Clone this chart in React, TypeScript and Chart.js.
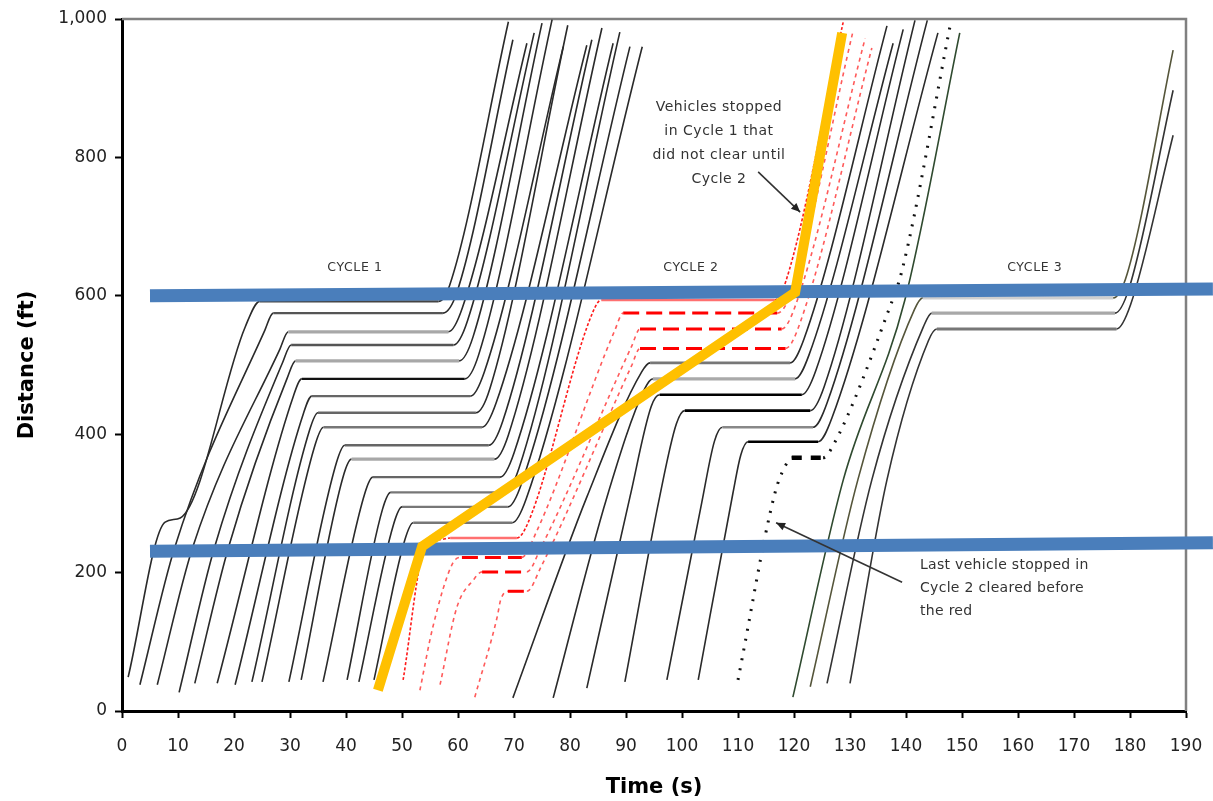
import React, { useEffect, useRef } from 'react';
import { Chart, registerables } from 'chart.js';

Chart.register(...registerables);

type P = [number, number];

// ---------- axes ----------
const X_MIN = 0;
const X_MAX = 190;
const X_STEP = 10;
const Y_MIN = 0;
const Y_MAX = 1000;
const Y_STEP = 200;
const X_TITLE = 'Time (s)';
const Y_TITLE = 'Distance (ft)';

// ---------- trajectories [time s, distance ft] ----------
// Cycle 1 queue (stopped at upper signal, cleared in cycle 1)
const CYCLE1_VEHICLES: P[][] = [
  [[1.1, 49], [7.7, 273], [10.4, 279], [22, 555], [24.6, 592], [56.5, 592], [58.5, 615], [69, 996]],
  [[3.2, 38], [9.4, 236], [25.5, 550], [27, 575], [57.3, 575], [59.8, 605], [69.8, 970]],
  [[6.3, 38], [12.6, 236], [28.2, 523], [29.7, 548], [58.3, 548], [60.8, 583], [72.3, 965]],
  [[10.2, 27], [16.5, 236], [28.7, 504], [30.2, 529], [59.2, 529], [61.7, 564], [73.6, 980]],
  [[13, 40], [19, 236], [29.5, 481], [31, 506], [60.2, 506], [62.7, 541], [75, 994]],
  [[17, 40], [30.6, 455], [32.1, 480], [61.2, 480], [63.7, 515], [76.8, 999]],
  [[20.2, 38], [32.4, 430], [33.9, 455], [62.2, 455], [64.7, 490], [78.8, 960]],
  [[23.2, 42], [33.5, 406], [35, 431], [63.2, 431], [65.7, 466], [79.6, 991]],
  [[25, 42], [34.5, 385], [36, 410], [64.3, 410], [66.8, 445], [83, 962]],
  [[29.8, 42], [38.3, 359], [39.8, 384], [65.5, 384], [68, 419], [83.9, 970]],
  [[32, 45], [39.5, 339], [41, 364], [66.5, 364], [69, 399], [85.7, 987]],
  [[35.9, 42], [43.3, 313], [44.8, 338], [67.5, 338], [70, 373], [87.7, 965]],
  [[40.2, 45], [46.5, 291], [48, 316], [68.4, 316], [70.9, 351], [88.9, 981]],
  [[42.3, 42], [48.5, 270], [50, 295], [68.9, 295], [71.4, 330], [90.7, 960]],
  [[45, 45], [50.5, 247], [52, 272], [69.7, 272], [72.2, 307], [92.9, 960]],
];

// Vehicles stopped in cycle 1 that did not clear until cycle 2 (red)
const RED_VEHICLES: P[][] = [
  [[50.2, 45], [54.1, 236], [57.2, 248], [58.6, 250], [70.5, 250], [72.5, 272], [84, 575], [85.6, 594], [116.5, 594], [118.5, 620], [128.8, 996]],
  [[53.2, 30], [55.5, 121], [59.1, 214], [60.7, 222], [71.4, 222], [73.9, 257], [88, 550], [89.5, 575], [117, 575], [119.5, 605], [130.5, 981]],
  [[56.8, 38], [59.8, 150], [62.8, 190], [64.3, 201], [72.3, 201], [74.8, 236], [91, 527], [92.5, 552], [117.8, 552], [120.3, 587], [132.7, 972]],
  [[63, 20], [67, 136], [67.6, 160], [68.9, 173], [72.3, 173], [74.8, 208], [91, 499], [92.5, 524], [118.5, 524], [121, 559], [133.9, 958]],
];

// Cycle 2 queue (black)
const CYCLE2_VEHICLES: P[][] = [
  [[69.8, 19], [83, 309], [92.8, 490], [94.3, 503], [119.3, 503], [121.8, 538], [136.6, 990]],
  [[77, 19], [86.6, 309], [93.3, 465], [94.8, 480], [120.2, 480], [122.7, 515], [137.7, 965]],
  [[83, 33], [90.7, 309], [94.5, 440], [96, 457], [121.4, 457], [123.9, 492], [139.5, 985]],
  [[89.8, 42], [96, 309], [99, 415], [100.5, 434], [122.9, 434], [125.4, 469], [141.6, 998]],
  [[97.3, 45], [103.5, 300], [105.8, 390], [107.2, 410], [123.4, 410], [125.9, 445], [143.8, 998]],
  [[102.9, 45], [109.1, 315], [110.5, 370], [111.8, 389], [124.3, 389], [126.8, 424], [145.7, 980]],
];

// Last vehicle stopped in cycle 2 (dotted)
const LAST_STOPPED_CYCLE2: P[] = [
  [110, 45], [116.6, 315], [118.5, 355], [119.6, 366], [125.2, 366], [126.8, 381], [136.8, 577], [139.3, 637], [147.9, 991],
];

// Vehicle passing without stopping
const THROUGH_VEHICLE: P[] = [[119.8, 20], [128.8, 334], [139.8, 594], [149.6, 980]];

// Cycle 3 queue
const CYCLE3_VEHICLES: P[][] = [
  [[122.9, 35], [131.4, 334], [141.5, 580], [143, 597], [177, 597], [179.5, 632], [187.7, 955]],
  [[125.9, 40], [133.9, 334], [143.1, 555], [144.6, 575], [177.3, 575], [179.8, 610], [187.7, 897]],
  [[130, 40], [136.6, 334], [144, 535], [145.5, 552], [177.6, 552], [180.1, 587], [187.7, 832]],
];

// Reference lines
const UPPER_STOP_LINE: P[] = [[5, 600], [194.8, 610]];
const LOWER_STOP_LINE: P[] = [[5, 231], [194.8, 243]];
const SHOCKWAVE_LINE: P[] = [[45.7, 30], [53.6, 238], [120.2, 605], [128.6, 980]];

// ---------- styles ----------
const CYCLE1_STOP_COLORS = ['#444', '#555', '#a8a8a8', '#555', '#a8a8a8', '#111', '#666', '#666', '#777', '#666', '#a8a8a8', '#666', '#777', '#777', '#777'];
const CYCLE2_STOP_COLORS = ['#777', '#aaa', '#000', '#000', '#888', '#000'];
const CYCLE3_STOP_COLORS = ['#cfcfcf', '#a8a8a8', '#777'];
const CYCLE3_CURVE_COLORS = ['#55553a', '#333', '#333'];

const FONT = '"DejaVu Sans", Verdana, sans-serif';

const CYCLE_LABELS = [
  { text: 'CYCLE 1', t: 41.6, d: 640 },
  { text: 'CYCLE 2', t: 101.6, d: 640 },
  { text: 'CYCLE 3', t: 163, d: 640 },
];
const NOTE_1_LINES = ['Vehicles stopped', 'in Cycle 1 that', 'did not clear until', 'Cycle 2'];
const NOTE_2_LINES = ['Last vehicle stopped in', 'Cycle 2 cleared before', 'the red'];

const toXY = (arr: P[]) => arr.map(([x, y]) => ({ x, y }));
const flat = (c: any) => c.p0.parsed.y === c.p1.parsed.y;

function vehicle(
  pts: P[],
  curveColor: string,
  curveWidth: number,
  curveDash: number[],
  stopColor: string,
  stopWidth: number,
  stopDash: number[],
) {
  return {
    type: 'line',
    data: toXY(pts),
    borderColor: curveColor,
    borderWidth: curveWidth,
    borderDash: curveDash,
    pointRadius: 0,
    pointHoverRadius: 0,
    fill: false,
    cubicInterpolationMode: 'monotone',
    order: 5,
    segment: {
      borderColor: (c: any) => (flat(c) ? stopColor : undefined),
      borderWidth: (c: any) => (flat(c) ? stopWidth : undefined),
      borderDash: (c: any) => (flat(c) ? stopDash : undefined),
    },
  };
}

function arrow(ctx: CanvasRenderingContext2D, x1: number, y1: number, x2: number, y2: number) {
  ctx.beginPath();
  ctx.moveTo(x1, y1);
  ctx.lineTo(x2, y2);
  ctx.stroke();
  const a = Math.atan2(y2 - y1, x2 - x1);
  const len = 9;
  const w = 4;
  ctx.beginPath();
  ctx.moveTo(x2, y2);
  ctx.lineTo(x2 - len * Math.cos(a) + w * Math.sin(a), y2 - len * Math.sin(a) - w * Math.cos(a));
  ctx.lineTo(x2 - len * Math.cos(a) - w * Math.sin(a), y2 - len * Math.sin(a) + w * Math.cos(a));
  ctx.closePath();
  ctx.fill();
}

const framePlugin = {
  id: 'frame',
  beforeDatasetsDraw(chart: any) {
    const { ctx, chartArea } = chart;
    ctx.save();
    ctx.strokeStyle = '#808080';
    ctx.lineWidth = 2.5;
    ctx.beginPath();
    ctx.moveTo(chartArea.left, chartArea.top);
    ctx.lineTo(chartArea.right, chartArea.top);
    ctx.lineTo(chartArea.right, chartArea.bottom);
    ctx.stroke();
    ctx.restore();
  },
};

const notesPlugin = {
  id: 'notes',
  afterDatasetsDraw(chart: any) {
    const { ctx } = chart;
    const x = chart.scales.x;
    const y = chart.scales.y;
    ctx.save();
    ctx.fillStyle = '#333';
    ctx.textBaseline = 'middle';
    ctx.textAlign = 'center';
    (ctx as any).letterSpacing = '0.6px';
    ctx.font = `12.5px ${FONT}`;
    CYCLE_LABELS.forEach((l) => ctx.fillText(l.text, x.getPixelForValue(l.t), y.getPixelForValue(l.d)));

    (ctx as any).letterSpacing = '0.5px';
    ctx.font = `14px ${FONT}`;
    const n1x = x.getPixelForValue(106.6);
    const n1y = y.getPixelForValue(873);
    NOTE_1_LINES.forEach((s, i) => ctx.fillText(s, n1x, n1y + i * 24));

    ctx.textAlign = 'left';
    (ctx as any).letterSpacing = '0.3px';
    const n2x = x.getPixelForValue(142.5);
    const n2y = y.getPixelForValue(211);
    NOTE_2_LINES.forEach((s, i) => ctx.fillText(s, n2x, n2y + i * 23));
    (ctx as any).letterSpacing = '0px';

    ctx.strokeStyle = '#333';
    ctx.fillStyle = '#222';
    ctx.lineWidth = 1.6;
    arrow(ctx, x.getPixelForValue(113.6), y.getPixelForValue(779), x.getPixelForValue(121.1), y.getPixelForValue(721));
    arrow(ctx, x.getPixelForValue(139.3), y.getPixelForValue(186), x.getPixelForValue(116.8), y.getPixelForValue(272));
    ctx.restore();
  },
};

export default function App() {
  const ref = useRef<HTMLCanvasElement>(null);

  useEffect(() => {
    const canvas = ref.current;
    if (!canvas) return;

    const datasets: any[] = [];

    CYCLE1_VEHICLES.forEach((v, i) => {
      const light = CYCLE1_STOP_COLORS[i] === '#a8a8a8';
      datasets.push(vehicle(v, '#2a2a2a', 1.6, [], CYCLE1_STOP_COLORS[i], light ? 3.2 : 2.4, []));
    });

    RED_VEHICLES.forEach((v, i) => {
      if (i === 0) datasets.push(vehicle(v, '#ff1a1a', 1.6, [3, 2], '#ff7070', 2.6, []));
      else datasets.push(vehicle(v, '#ff5a5a', 1.6, [4, 4], '#ff0000', 3, [16, 7]));
    });

    CYCLE2_VEHICLES.forEach((v, i) => {
      const light = CYCLE2_STOP_COLORS[i] === '#aaa';
      datasets.push(vehicle(v, '#2a2a2a', 1.6, [], CYCLE2_STOP_COLORS[i], light ? 3.2 : 2.6, []));
    });

    datasets.push(vehicle(LAST_STOPPED_CYCLE2, '#111', 3, [2, 8], '#000', 4.5, [10, 9]));
    datasets.push(vehicle(THROUGH_VEHICLE, '#2f4a2f', 1.6, [], '#2f4a2f', 1.6, []));

    CYCLE3_VEHICLES.forEach((v, i) => {
      datasets.push(vehicle(v, CYCLE3_CURVE_COLORS[i], 1.6, [], CYCLE3_STOP_COLORS[i], 3.2, []));
    });

    [UPPER_STOP_LINE, LOWER_STOP_LINE].forEach((l) =>
      datasets.push({
        type: 'line',
        data: toXY(l),
        borderColor: '#4a7ebb',
        borderWidth: 13,
        borderCapStyle: 'butt',
        pointRadius: 0,
        fill: false,
        clip: false,
        order: 1,
      }),
    );

    datasets.push({
      type: 'line',
      data: toXY(SHOCKWAVE_LINE),
      borderColor: '#ffc000',
      borderWidth: 10,
      borderCapStyle: 'butt',
      borderJoinStyle: 'miter',
      pointRadius: 0,
      fill: false,
      clip: false,
      order: 0,
    });

    const chart = new Chart(canvas, {
      type: 'line',
      data: { datasets },
      plugins: [framePlugin, notesPlugin],
      options: {
        animation: false,
        responsive: false,
        devicePixelRatio: 1,
        parsing: false as any,
        normalized: true,
        layout: { padding: { top: 19, right: 27, left: 0, bottom: 0 } },
        plugins: { legend: { display: false }, tooltip: { enabled: false } },
        elements: { line: { tension: 0 } },
        scales: {
          x: {
            type: 'linear',
            min: X_MIN,
            max: X_MAX,
            afterFit: (s: any) => {
              s.height = 90;
              s.paddingLeft = 0;
              s.paddingRight = 0;
            },
            ticks: {
              stepSize: X_STEP,
              autoSkip: false,
              maxRotation: 0,
              padding: 18,
              color: '#222',
              font: { family: FONT, size: 17 },
            },
            grid: {
              display: true,
              drawOnChartArea: false,
              drawTicks: true,
              tickLength: 7,
              tickWidth: 2,
              tickColor: '#000',
            },
            border: { display: true, color: '#000', width: 3 },
            title: {
              display: true,
              text: X_TITLE,
              color: '#000',
              font: { family: FONT, size: 21, weight: 'bold' },
              padding: { top: 0, bottom: 1 },
            },
          },
          y: {
            type: 'linear',
            min: Y_MIN,
            max: Y_MAX,
            afterFit: (s: any) => {
              s.width = 122;
              s.paddingTop = 0;
              s.paddingBottom = 0;
            },
            ticks: {
              stepSize: Y_STEP,
              padding: 8,
              color: '#222',
              font: { family: FONT, size: 17 },
              callback: (v: any) => Number(v).toLocaleString('en-US'),
            },
            grid: {
              display: true,
              drawOnChartArea: false,
              drawTicks: true,
              tickLength: 7,
              tickWidth: 2,
              tickColor: '#000',
            },
            border: { display: true, color: '#000', width: 3 },
            title: {
              display: true,
              text: Y_TITLE,
              color: '#000',
              font: { family: FONT, size: 21, weight: 'bold' },
              padding: { top: 15, bottom: 0 },
            },
          },
        },
      } as any,
    });

    return () => chart.destroy();
  }, []);

  return (
    <div style={{ position: 'fixed', left: 0, top: 0, width: 1213, height: 801, background: '#fff' }}>
      <canvas ref={ref} width={1213} height={801} style={{ width: 1213, height: 801, display: 'block' }} />
    </div>
  );
}
